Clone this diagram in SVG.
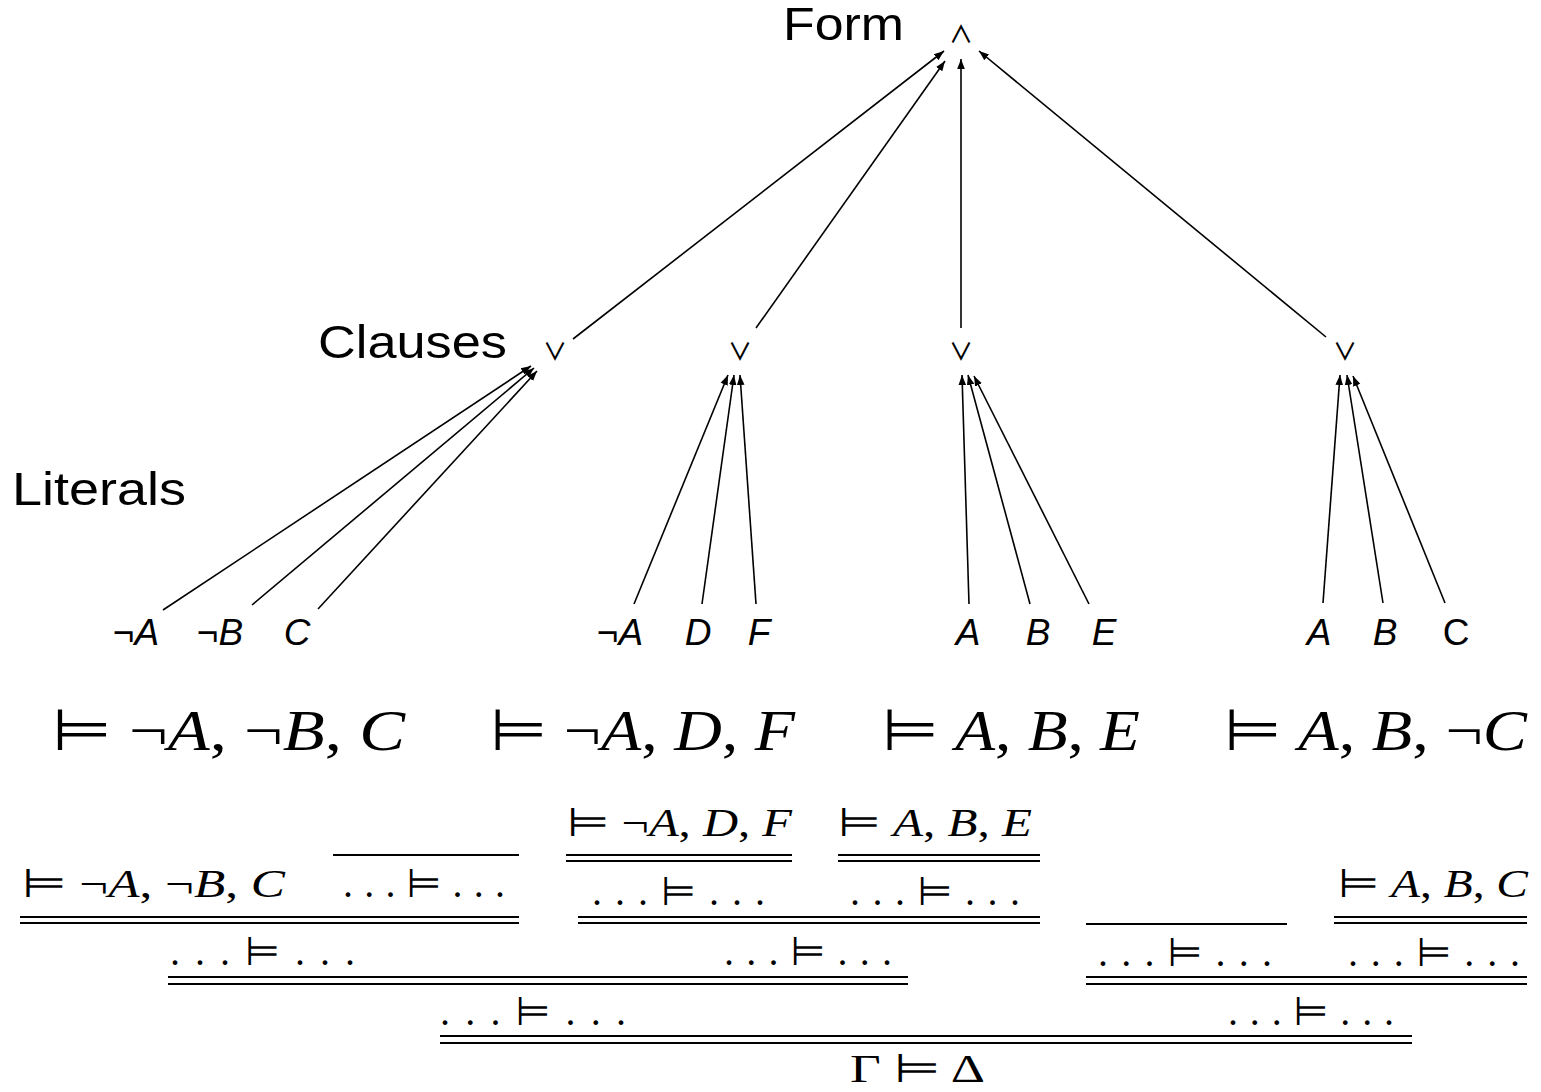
<svg xmlns="http://www.w3.org/2000/svg" width="1541" height="1092" viewBox="0 0 1541 1092">
<style>
.lbl{font-family:"Liberation Sans",Arial,sans-serif;font-size:46px;fill:#000}
.op{font-family:"Noto Sans CJK JP","DejaVu Sans",sans-serif;font-weight:500;font-size:24px;fill:#000;text-anchor:middle}
.lit{font-family:"Liberation Sans",Arial,sans-serif;font-size:37px;font-style:italic;fill:#000;text-anchor:middle}
.up{font-style:normal}
.big{font-family:"Liberation Serif","DejaVu Serif",serif;font-size:58px;fill:#000}
.pf{font-family:"Liberation Serif","DejaVu Serif",serif;font-size:40px;fill:#000}
.i{font-style:italic}
.rel{font-family:"DejaVu Sans",sans-serif;font-style:normal}
.edge{stroke:#000;stroke-width:1.6;fill:none;marker-end:url(#ah)}
.rule{stroke:#000;stroke-width:2;fill:none}
</style>
<defs>
<marker id="ah" viewBox="0 0 10 10" refX="10" refY="5" markerWidth="10" markerHeight="10" markerUnits="userSpaceOnUse" orient="auto">
<path d="M0,1.2 L10,5 L0,8.8 z" fill="#000"/>
</marker>
</defs>

<g id="labels">
<text class="lbl" x="783" y="40" textLength="121" lengthAdjust="spacingAndGlyphs">Form</text>
<text class="lbl" x="318" y="358" textLength="189" lengthAdjust="spacingAndGlyphs">Clauses</text>
<text class="lbl" x="12" y="505" textLength="174" lengthAdjust="spacingAndGlyphs">Literals</text>
</g>

<g id="form"><text class="op" x="961" y="43">∧</text></g>
<g id="clause1"><text class="op" x="555" y="360">∨</text></g>
<g id="clause2"><text class="op" x="740" y="360">∨</text></g>
<g id="clause3"><text class="op" x="961" y="360">∨</text></g>
<g id="clause4"><text class="op" x="1345" y="360">∨</text></g>

<g id="literals">
<g id="lit1a"><text class="lit" x="136" y="645">¬A</text></g>
<g id="lit1b"><text class="lit" x="220" y="645">¬B</text></g>
<g id="lit1c"><text class="lit" x="297" y="645">C</text></g>
<g id="lit2a"><text class="lit" x="620" y="645">¬A</text></g>
<g id="lit2d"><text class="lit" x="698" y="645">D</text></g>
<g id="lit2f"><text class="lit" x="759" y="645">F</text></g>
<g id="lit3a"><text class="lit" x="968" y="645">A</text></g>
<g id="lit3b"><text class="lit" x="1038" y="645">B</text></g>
<g id="lit3e"><text class="lit" x="1104" y="645">E</text></g>
<g id="lit4a"><text class="lit" x="1319" y="645">A</text></g>
<g id="lit4b"><text class="lit" x="1385" y="645">B</text></g>
<g id="lit4c"><text class="lit up" x="1456" y="645">C</text></g>
</g>

<g id="connectors">
<line class="edge" x1="573" y1="339" x2="944" y2="51"/>
<line class="edge" x1="756" y1="328" x2="945" y2="61"/>
<line class="edge" x1="961" y1="328" x2="961" y2="59"/>
<line class="edge" x1="1326" y1="337" x2="979" y2="51"/>

<line class="edge" x1="163" y1="610" x2="531" y2="366"/>
<line class="edge" x1="252" y1="605" x2="534" y2="368"/>
<line class="edge" x1="318" y1="609" x2="537" y2="371"/>

<line class="edge" x1="634" y1="604" x2="728" y2="375"/>
<line class="edge" x1="702" y1="604" x2="734" y2="375"/>
<line class="edge" x1="756" y1="604" x2="740" y2="375"/>

<line class="edge" x1="969" y1="604" x2="962" y2="375"/>
<line class="edge" x1="1030" y1="604" x2="968" y2="375"/>
<line class="edge" x1="1089" y1="604" x2="974" y2="376"/>

<line class="edge" x1="1323" y1="603" x2="1340" y2="375"/>
<line class="edge" x1="1383" y1="603" x2="1347" y2="375"/>
<line class="edge" x1="1445" y1="603" x2="1353" y2="376"/>
</g>

<g id="sequents">
<text class="big" x="52" y="750" textLength="353" lengthAdjust="spacingAndGlyphs"><tspan class="rel">⊨</tspan> ¬<tspan class="i">A</tspan>, ¬<tspan class="i">B</tspan>, <tspan class="i">C</tspan></text>
<text class="big" x="490" y="750" textLength="305" lengthAdjust="spacingAndGlyphs"><tspan class="rel">⊨</tspan> ¬<tspan class="i">A</tspan>, <tspan class="i">D</tspan>, <tspan class="i">F</tspan></text>
<text class="big" x="882" y="750" textLength="258" lengthAdjust="spacingAndGlyphs"><tspan class="rel">⊨</tspan> <tspan class="i">A</tspan>, <tspan class="i">B</tspan>, <tspan class="i">E</tspan></text>
<text class="big" x="1224" y="750" textLength="303" lengthAdjust="spacingAndGlyphs"><tspan class="rel">⊨</tspan> <tspan class="i">A</tspan>, <tspan class="i">B</tspan>, ¬<tspan class="i">C</tspan></text>
</g>

<g id="proof">
<text class="pf" x="567" y="836" textLength="225" lengthAdjust="spacingAndGlyphs"><tspan class="rel">⊨</tspan> ¬<tspan class="i">A</tspan>, <tspan class="i">D</tspan>, <tspan class="i">F</tspan></text>
<text class="pf" x="838" y="836" textLength="194" lengthAdjust="spacingAndGlyphs"><tspan class="rel">⊨</tspan> <tspan class="i">A</tspan>, <tspan class="i">B</tspan>, <tspan class="i">E</tspan></text>
<path class="rule" d="M566,855H792M566,861H792M838,855H1040M838,861H1040"/>

<text class="pf" x="22" y="897" textLength="263" lengthAdjust="spacingAndGlyphs"><tspan class="rel">⊨</tspan> ¬<tspan class="i">A</tspan>, ¬<tspan class="i">B</tspan>, <tspan class="i">C</tspan></text>
<path class="rule" d="M333,855H519"/>
<text class="pf" x="343" y="897" textLength="162" lengthAdjust="spacing">. . . <tspan class="rel">⊨</tspan> . . .</text>
<path class="rule" d="M20,917H519M20,923H519"/>

<text class="pf" x="592" y="905" textLength="173" lengthAdjust="spacing">. . . <tspan class="rel">⊨</tspan>  . . .</text>
<text class="pf" x="850" y="905" textLength="170" lengthAdjust="spacing">. . . <tspan class="rel">⊨</tspan>  . . .</text>
<path class="rule" d="M578,917H1040M578,923H1040"/>

<text class="pf" x="1338" y="897" textLength="190" lengthAdjust="spacingAndGlyphs"><tspan class="rel">⊨</tspan> <tspan class="i">A</tspan>, <tspan class="i">B</tspan>, <tspan class="i">C</tspan></text>
<path class="rule" d="M1334,917H1527M1334,923H1527"/>
<path class="rule" d="M1086,924H1287"/>
<text class="pf" x="1098" y="966" textLength="174" lengthAdjust="spacing">. . . <tspan class="rel">⊨</tspan>  . . .</text>
<text class="pf" x="1348" y="966" textLength="172" lengthAdjust="spacing">. . . <tspan class="rel">⊨</tspan>  . . .</text>
<path class="rule" d="M1086,977H1527M1086,984H1527"/>

<text class="pf" x="170" y="965" textLength="185" lengthAdjust="spacing">. . . <tspan class="rel">⊨</tspan>  . . .</text>
<text class="pf" x="724" y="965" textLength="168" lengthAdjust="spacing">. . . <tspan class="rel">⊨</tspan>  . . .</text>
<path class="rule" d="M168,977H908M168,984H908"/>

<text class="pf" x="440" y="1025" textLength="186" lengthAdjust="spacing">. . . <tspan class="rel">⊨</tspan>  . . .</text>
<text class="pf" x="1228" y="1025" textLength="166" lengthAdjust="spacing">. . . <tspan class="rel">⊨</tspan>  . . .</text>
<path class="rule" d="M440,1036H1412M440,1043H1412"/>

<text class="pf" x="850" y="1082" textLength="135" lengthAdjust="spacingAndGlyphs">Γ <tspan class="rel">⊨</tspan> Δ</text>
</g>
</svg>
